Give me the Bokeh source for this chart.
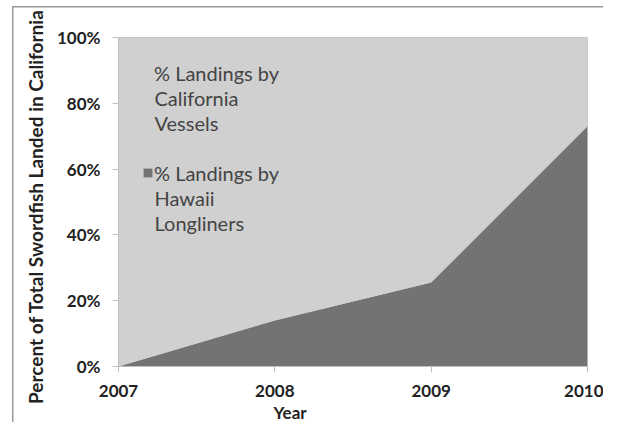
from bokeh.plotting import figure
from bokeh.models import ColumnDataSource, Legend, LegendItem, NumeralTickFormatter, FixedTicker, Range1d, Label, Title
from bokeh.embed import file_html
from bokeh.resources import INLINE

years = [2007, 2008, 2009, 2010]
hawaii = [0.0, 0.14, 0.255, 0.73]
california = [1.0, 0.86, 0.745, 0.27]
legend_first = ["% Landings by", "% Landings by"]
legend_more = [["California", "Vessels"], ["Hawaii", "Longliners"]]
y_ticks = [0.0, 0.2, 0.4, 0.6, 0.8, 1.0]

source = ColumnDataSource(dict(year=years, hawaii=hawaii, california=california))

FONT = "Lato"
W, H = 603, 422
p = figure(width=W, height=H, output_backend="svg", toolbar_location=None,
           x_range=Range1d(2007, 2010), y_range=Range1d(0, 1),
           min_border_left=118, min_border_right=16, min_border_top=37, min_border_bottom=55)
p.background_fill_color = "#d0d0d0"
p.border_fill_alpha = 0
p.outline_line_color = "#c4c4c4"
p.xgrid.visible = False
p.ygrid.visible = False
p.styles = {
    "background-color": "white",
    "background-image": "linear-gradient(#9a9a9a, #9a9a9a), linear-gradient(#9a9a9a, #9a9a9a)",
    "background-size": "1.5px calc(100% - 6px), calc(100% - 12px) 1.5px",
    "background-position": "12px 6px, 12px 6px",
    "background-repeat": "no-repeat",
}

rs = p.varea_stack(stackers=["hawaii", "california"], x="year", source=source,
                   color=["#737373", "#d0d0d0"])

p.xaxis.ticker = FixedTicker(ticks=years)
p.yaxis.ticker = FixedTicker(ticks=y_ticks)
p.yaxis.formatter = NumeralTickFormatter(format="0%")
for ax in (p.xaxis[0], p.yaxis[0]):
    ax.axis_line_color = "#c0c0c0"
    ax.major_tick_line_color = "#c0c0c0"
    ax.major_tick_out = 6
    ax.major_tick_in = 0
    ax.minor_tick_line_color = None
    ax.major_label_text_font = FONT
    ax.major_label_text_font_style = "bold"
    ax.major_label_text_font_size = "17px"
    ax.major_label_text_color = "#222222"
    ax.axis_label_text_font = FONT
    ax.axis_label_text_font_style = "bold"
    ax.axis_label_text_font_size = "19px"
    ax.axis_label_text_color = "#222222"
p.yaxis.axis_label = "Percent  of Total Swordfish  Landed in California"
p.yaxis.major_label_standoff = 12
p.xaxis.major_label_standoff = 12
p.yaxis.axis_label_standoff = 7

p.add_layout(Title(text="Year", align="left", offset=155, standoff=0,
                   text_font=FONT, text_font_style="bold", text_font_size="17px",
                   text_color="#222222"), "below")

legend = Legend(items=[LegendItem(label=legend_first[0], renderers=[rs[1]]),
                       LegendItem(label=legend_first[1], renderers=[rs[0]])],
                location=(24, 181), background_fill_alpha=0, border_line_color=None,
                label_text_font=FONT, label_text_font_size="20px", label_text_color="#444444",
                glyph_width=11, glyph_height=11, label_standoff=1, spacing=75,
                label_height=25, padding=0, margin=0)
p.add_layout(legend, "center")

for block, top in zip(legend_more, [294, 194]):
    for i, t in enumerate(block):
        p.add_layout(Label(x=36, y=top - 25 * (i + 1), x_units="screen", y_units="screen", text=t,
                           text_font=FONT, text_font_size="20px", text_color="#444444",
                           text_align="left", text_baseline="middle"))

open("out.html", "w").write(file_html(p, INLINE))
